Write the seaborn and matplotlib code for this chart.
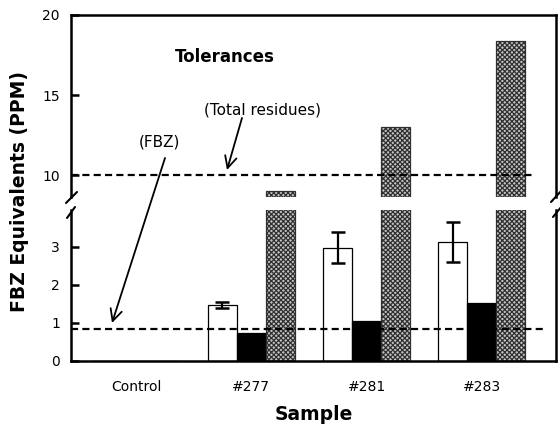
import numpy as np
import pandas as pd
import matplotlib
matplotlib.use("Agg")
import matplotlib.pyplot as plt
from matplotlib.lines import Line2D
import seaborn as sns

# ---- data ----
samples = ["Control", "#277", "#281", "#283"]
fbz_white = [0.0, 1.47, 2.98, 3.13]
fbz_white_err = [0.0, 0.07, 0.40, 0.53]
fbz_black = [0.0, 0.74, 1.06, 1.52]
total_gray = [0.0, 9.0, 13.0, 18.4]
series = ["white", "black", "gray"]
tol_fbz = 0.84
tol_total = 10.0
upper_ticks = [10, 15, 20]
lower_ticks = [0, 1, 2, 3]

df = pd.DataFrame({
    "Sample": samples * 3,
    "series": [series[0]] * 4 + [series[1]] * 4 + [series[2]] * 4,
    "value": fbz_white + fbz_black + total_gray,
})

sns.set_theme(style="white")
plt.rcParams["font.family"] = ["DejaVu Sans"]
plt.rcParams["hatch.linewidth"] = 0.9
plt.rcParams["hatch.color"] = "#383838"
for k in ["text.color", "axes.labelcolor", "xtick.color", "ytick.color"]:
    plt.rcParams[k] = "black"

W, H = 560, 426
fig = plt.figure(figsize=(W / 100, H / 100), dpi=100)
L, R = 71, 556
ax_top = fig.add_axes([L / W, 1 - 197 / H, (R - L) / W, (197 - 15) / H])
ax_bot = fig.add_axes([L / W, 1 - 361 / H, (R - L) / W, (361 - 210) / H])

GRAY = "#c4c4c4"
pal = {"white": "white", "black": "black", "gray": GRAY}
for ax in (ax_top, ax_bot):
    sns.barplot(data=df, x="Sample", y="value", hue="series", order=samples,
                hue_order=series, palette=pal, width=0.755, errorbar=None,
                edgecolor="black", linewidth=0.9, legend=False, ax=ax)
    for p in ax.patches:
        fc = p.get_facecolor()
        if abs(fc[0] - matplotlib.colors.to_rgb(GRAY)[0]) < 0.02:
            p.set_hatch("xxxxxxx")
            p.set_edgecolor("#303030")
    ax.set_xlim(-0.564, 3.643)
    ax.set_xlabel("")
    ax.set_ylabel("")
    for s in ax.spines.values():
        s.set_linewidth(1.8)
        s.set_color("black")
    ax.tick_params(axis="y", direction="in", length=6, width=1.8, pad=8,
                   labelsize=10, left=True, right=False, colors="black")

# upper axis
ax_top.set_ylim(8.63, 20)
ax_top.set_yticks(upper_ticks)
ax_top.spines["bottom"].set_visible(False)
ax_top.tick_params(axis="x", bottom=False, labelbottom=False)
ax_top.axhline(tol_total, xmin=0, xmax=0.957, color="black", lw=1.6,
               dashes=(3.2, 1.9), zorder=5)

# lower axis
ax_bot.set_ylim(0, 3.97)
ax_bot.set_yticks(lower_ticks)
ax_bot.spines["top"].set_visible(False)
ax_bot.tick_params(axis="x", bottom=False, length=0, pad=14, labelsize=10,
                   colors="black")
ax_bot.axhline(tol_fbz, xmin=0, xmax=0.973, color="black", lw=1.6,
               dashes=(3.2, 1.9), zorder=5)

# error bars on the white bars, at the drawn bar centres
white_patches = [p for p in ax_bot.patches
                 if p.get_facecolor()[0] > 0.99 and p.get_facecolor()[1] > 0.99]
for p, v, e in zip(white_patches, fbz_white, fbz_white_err):
    if e > 0:
        xc = p.get_x() + p.get_width() / 2
        ax_bot.errorbar(xc, v, yerr=e, fmt="none", ecolor="black",
                        elinewidth=1.6, capsize=5, capthick=1.8, zorder=6)

# labels
fig.text(20 / W, 1 - 191 / H, "FBZ Equivalents (PPM)", rotation=90,
         ha="center", va="center", fontsize=13.5, fontweight="bold")
fig.text(314 / W, 1 - 414 / H, "Sample", ha="center", va="center",
         fontsize=13.5, fontweight="bold")
fig.text(225 / W, 1 - 57 / H, "Tolerances", ha="center", va="center",
         fontsize=12, fontweight="bold")
fig.text(262 / W, 1 - 110 / H, "(Total residues)", ha="center", va="center",
         fontsize=11)
fig.text(159 / W, 1 - 142 / H, "(FBZ)", ha="center", va="center", fontsize=11)

arrow = dict(arrowstyle="->,head_length=0.7,head_width=0.35", lw=1.3,
             color="black", shrinkA=0, shrinkB=0)
fig.add_artist(matplotlib.text.Annotation("", xy=(227, H - 170), xytext=(242, H - 118),
                                          xycoords="figure pixels", textcoords="figure pixels",
                                          arrowprops=arrow))
fig.add_artist(matplotlib.text.Annotation("", xy=(112, H - 323), xytext=(165, H - 158),
                                          xycoords="figure pixels", textcoords="figure pixels",
                                          arrowprops=arrow))

# break marks
def seg(x0, y0, x1, y1):
    fig.add_artist(Line2D([x0 / W, x1 / W], [1 - y0 / H, 1 - y1 / H],
                          transform=fig.transFigure, color="black", lw=1.5))

seg(77, 192, 66, 203)
seg(75, 207, 67, 218)
seg(562, 190, 551, 202)
seg(562, 206, 553, 217)

fig.savefig("out.png", dpi=100)
